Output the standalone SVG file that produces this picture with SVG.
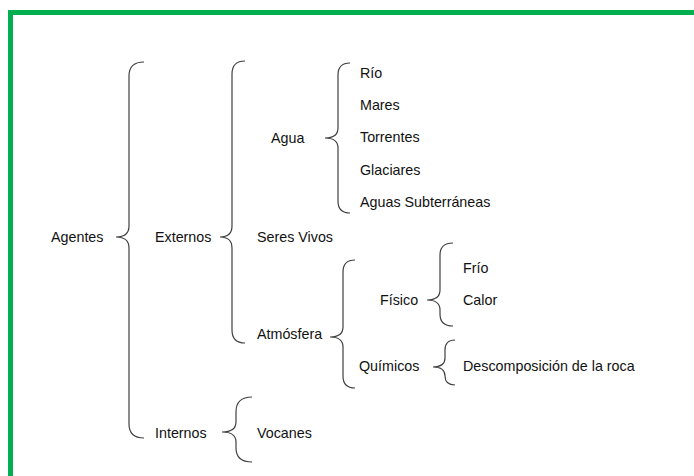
<svg xmlns="http://www.w3.org/2000/svg" width="694" height="476" viewBox="0 0 694 476">
<style>
  text { font-family: "Liberation Sans", Arial, sans-serif; font-size: 14.3px; fill: #111; }
  .brace { fill: none; stroke: #404040; stroke-width: 1.2; }
</style>
<rect x="0" y="0" width="694" height="476" fill="#fff"/>
<rect x="10.5" y="12.5" width="700" height="480" fill="none" stroke="#00B050" stroke-width="5"/>
<g id="connectors">
  <path class="brace" d="M144,62 Q129,62 129,76 L129,226 Q129,237 116,237 Q129,237 129,248 L129,424 Q129,438 144,438"/>
  <path class="brace" d="M245,61 Q232,61 232,74 L232,226 Q232,237 220,237 Q232,237 232,248 L232,330 Q232,343 245,343"/>
  <path class="brace" d="M252,397 Q236,397 236,412 L236,422 Q236,432 222,432 Q236,432 236,442 L236,448 Q236,462 252,462"/>
  <path class="brace" d="M350,63 Q338,63 338,75 L338,128 Q338,138 325,138 Q338,138 338,148 L338,201 Q338,213 350,213"/>
  <path class="brace" d="M355,260 Q343,260 343,272 L343,327 Q343,337 330,337 Q343,337 343,347 L343,376 Q343,388 355,388"/>
  <path class="brace" d="M453,243 Q440,243 440,255 L440,290 Q440,300 427,300 Q440,300 440,310 L440,314 Q440,326 453,326"/>
  <path class="brace" d="M455,340 Q445,340 445,350 L445,358 Q445,367 433,367 Q445,367 445,376 Q445,385 455,385"/>
</g>
<g id="agentes"><text x="51" y="242">Agentes</text></g>
<g id="externos"><text x="155" y="242">Externos</text></g>
<g id="internos"><text x="155" y="438">Internos</text></g>
<g id="agua"><text x="271" y="143">Agua</text></g>
<g id="seres-vivos"><text x="257" y="242">Seres Vivos</text></g>
<g id="atmosfera"><text x="257" y="339">Atmósfera</text></g>
<g id="vocanes"><text x="257" y="438">Vocanes</text></g>
<g id="rio"><text x="360" y="78">Río</text></g>
<g id="mares"><text x="360" y="110">Mares</text></g>
<g id="torrentes"><text x="360" y="142">Torrentes</text></g>
<g id="glaciares"><text x="360" y="175">Glaciares</text></g>
<g id="aguas-subterraneas"><text x="360" y="207">Aguas Subterráneas</text></g>
<g id="fisico"><text x="380" y="305">Físico</text></g>
<g id="quimicos"><text x="359" y="371">Químicos</text></g>
<g id="frio"><text x="463" y="273">Frío</text></g>
<g id="calor"><text x="463" y="305">Calor</text></g>
<g id="descomposicion"><text x="463" y="371">Descomposición de la roca</text></g>
</svg>
